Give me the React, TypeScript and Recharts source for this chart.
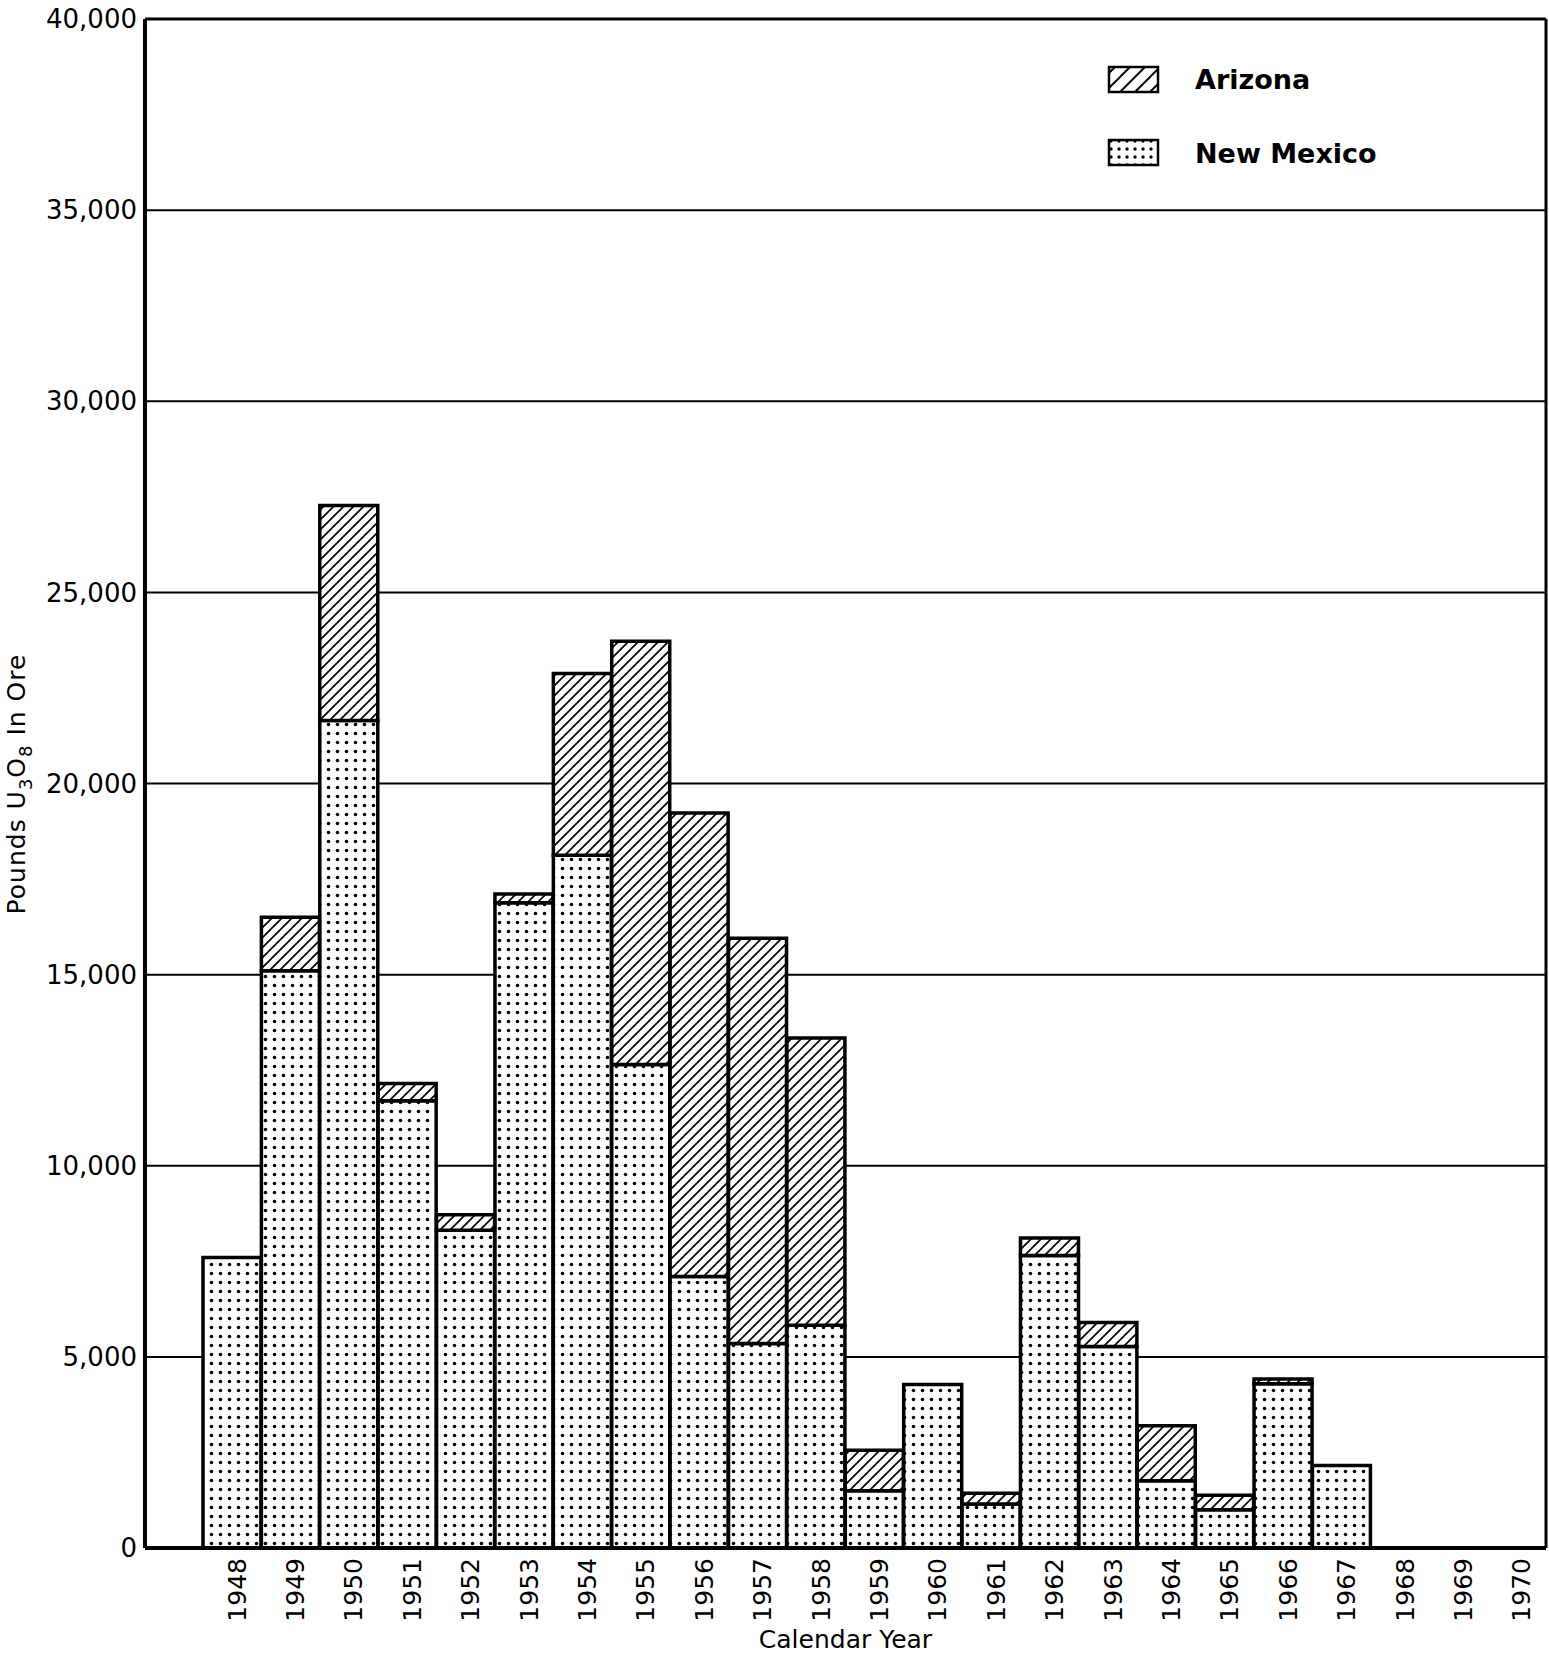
import { BarChart, Bar, XAxis, YAxis, CartesianGrid, Legend, ReferenceLine } from 'recharts'

const YEARS = ['1948', '1949', '1950', '1951', '1952', '1953', '1954', '1955', '1956', '1957', '1958', '1959', '1960', '1961', '1962', '1963', '1964', '1965', '1966', '1967', '1968', '1969', '1970']
const NEW_MEXICO = [7600, 15100, 21650, 11700, 8310, 16880, 18120, 12650, 7100, 5350, 5830, 1500, 4280, 1150, 7650, 5270, 1760, 1000, 4300, 2160, null, null, null]
const ARIZONA = [null, 1400, 5620, 450, 410, 230, 4760, 11070, 12130, 10600, 7510, 1060, null, 280, 460, 630, 1440, 380, 120, null, null, null, null]
const Y_TICKS = [0, 5000, 10000, 15000, 20000, 25000, 30000, 35000, 40000]

const data = YEARS.map((year, i) => ({ year, nm: NEW_MEXICO[i], az: ARIZONA[i] }))

const FONT = '"DejaVu Sans", sans-serif'

function YearTick({ x, y, payload }: { x?: number; y?: number; payload?: { value: string } }) {
  return (
    <text
      transform={`translate(${(x ?? 0) + 5},${(y ?? 0) + 2}) rotate(-90)`}
      textAnchor="end"
      dominantBaseline="central"
      fontSize={25}
      fontFamily={FONT}
      fill="#000"
    >
      {payload?.value}
    </text>
  )
}

function YLabel() {
  return (
    <text transform="translate(25,784) rotate(-90)" textAnchor="middle" fontSize={25} fontFamily={FONT} fill="#000" letterSpacing={1}>
      Pounds U<tspan fontSize={18} dy={7}>3</tspan>
      <tspan dy={-7}>O</tspan>
      <tspan fontSize={18} dy={7}>8</tspan>
      <tspan dy={-7}> In Ore</tspan>
    </text>
  )
}

function LegendBox() {
  return (
    <svg width={320} height={115} style={{ overflow: 'visible' }}>
      <defs>
        <pattern id="lg-hatch" patternUnits="userSpaceOnUse" width={15} height={15}>
          <rect width={15} height={15} fill="#fff" />
          <path d="M0,15 L15,0 M-7.5,7.5 L7.5,-7.5 M7.5,22.5 L22.5,7.5" stroke="#000" strokeWidth={2} />
        </pattern>
        <pattern id="lg-dots" patternUnits="userSpaceOnUse" width={8} height={8} x={2} y={3}>
          <rect width={8} height={8} fill="#fff" />
          <circle cx={4} cy={4} r={1.7} fill="#000" />
        </pattern>
      </defs>
      <rect x={4} y={5} width={49} height={25} fill="url(#lg-hatch)" stroke="#000" strokeWidth={2.5} />
      <text x={90} y={27} fontSize={27} fontWeight="bold" fontFamily={FONT} fill="#000">Arizona</text>
      <rect x={4} y={78} width={49} height={25} fill="url(#lg-dots)" stroke="#000" strokeWidth={2.5} />
      <text x={90} y={101} fontSize={27} fontWeight="bold" fontFamily={FONT} fill="#000">New Mexico</text>
    </svg>
  )
}

export default function App() {
  return (
    <div style={{ position: 'absolute', left: 0, top: 0, width: 1549, height: 1656, background: '#fff' }}>
      <BarChart width={1549} height={1656} data={data} margin={{ top: 19, right: 1, left: 0, bottom: 0 }} barCategoryGap={0} barGap={0}>
        <defs>
          <pattern id="dots" patternUnits="userSpaceOnUse" width={9} height={9}>
            <rect width={9} height={9} fill="#fff" />
            <circle cx={4.5} cy={4.5} r={1.8} fill="#000" />
          </pattern>
          <pattern id="hatch" patternUnits="userSpaceOnUse" width={10} height={10}>
            <rect width={10} height={10} fill="#fff" />
            <path d="M0,10 L10,0 M-5,5 L5,-5 M5,15 L15,5" stroke="#000" strokeWidth={1.7} />
          </pattern>
        </defs>
        <CartesianGrid vertical={false} stroke="#000" strokeWidth={2} />
        <XAxis
          dataKey="year"
          padding={{ left: 58, right: 0 }}
          height={108}
          tick={<YearTick />}
          tickLine={false}
          axisLine={{ stroke: '#000', strokeWidth: 4 }}
          interval={0}
          label={{ value: 'Calendar Year', position: 'insideBottom', offset: 8, fontSize: 25, fontFamily: FONT, fill: '#000' }}
        />
        <YAxis
          domain={[0, 40000]}
          ticks={Y_TICKS}
          width={145}
          tickLine={false}
          axisLine={{ stroke: '#000', strokeWidth: 4 }}
          tick={{ fill: '#000', fontSize: 26, fontFamily: FONT }}
          tickFormatter={(v: number) => v.toLocaleString('en-US')}
          label={() => <YLabel />}
        />
        <YAxis yAxisId="r" orientation="right" width={2} domain={[0, 40000]} tick={false} tickLine={false} axisLine={{ stroke: '#000', strokeWidth: 3 }} />
        <ReferenceLine y={40000} stroke="#000" strokeWidth={3} />
        <Legend layout="vertical" align="center" verticalAlign="middle" content={() => <LegendBox />} wrapperStyle={{ left: 1105, top: 62, width: 320, height: 115 }} />
        <Bar dataKey="nm" name="New Mexico" stackId="a" fill="url(#dots)" stroke="#000" strokeWidth={3.5} isAnimationActive={false} />
        <Bar dataKey="az" name="Arizona" stackId="a" fill="url(#hatch)" stroke="#000" strokeWidth={3.5} isAnimationActive={false} />
      </BarChart>
    </div>
  )
}
